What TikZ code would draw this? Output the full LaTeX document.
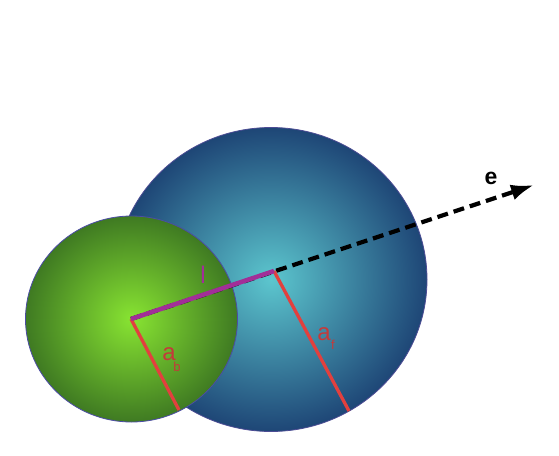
\documentclass[tikz,border=0pt]{standalone}
\usepackage{fontspec}
\setmainfont{Liberation Sans}
\usetikzlibrary{arrows.meta}
\definecolor{bluein}{HTML}{5CC6CE}
\definecolor{blueout}{HTML}{1E4676}
\definecolor{greenin}{HTML}{88E432}
\definecolor{greenout}{HTML}{3F7A22}
\definecolor{redline}{HTML}{E2403E}
\definecolor{redtext}{HTML}{C43A3A}
\definecolor{purpleline}{HTML}{A22E98}
\pgfdeclareradialshading{blueball}{\pgfpoint{0bp}{0bp}}{color(0bp)=(bluein); color(25bp)=(blueout); color(50bp)=(blueout)}
\pgfdeclareradialshading{greenball}{\pgfpoint{0bp}{0bp}}{color(0bp)=(greenin); color(25bp)=(greenout); color(50bp)=(greenout)}
\begin{document}
\begin{tikzpicture}[x=1pt,y=-1pt,
  lbl/.style={inner sep=0pt, font=\fontsize{24}{28}\selectfont},
  sublbl/.style={inner sep=0pt, font=\fontsize{13}{15}\selectfont},
  radline/.style={draw=redline, line width=3.3pt},
  ball/.style={draw=#1, line width=0.8pt}]
\useasboundingbox (0,0) rectangle (559,455);
\coordinate (BC) at (271,279.5);
\coordinate (GC) at (131.5,319);
\coordinate (G) at (131,319);
\coordinate (F) at (274,271);
\coordinate (E) at (534,185);
\coordinate (Rb) at (179,410);
\coordinate (Rf) at (349,411);
\path[shading=blueball, ball=blue!40!black!70] (BC) ellipse [x radius=156pt, y radius=152pt];
\path[shading=greenball, ball=blue!50!black!70] (GC) ellipse [x radius=106pt, y radius=103pt];
\draw[line width=4.2pt, dash pattern=on 11pt off 6pt, -{Latex[length=23pt,width=16pt]}] (G) -- (E);
\draw[radline] (G) -- (Rb);
\draw[radline] (F) -- (Rf);
\draw[draw=purpleline, line width=4.5pt] (G) -- (F);
\node[lbl, text=purpleline] (l) at (203,275) {l};
\node[lbl, text=redtext] (ab) at (169,354) {a};
\node[sublbl, text=redtext] (abs) at (177,367) {b};
\node[lbl, text=redtext] (af) at (324,334) {a};
\node[sublbl, text=redtext] (afs) at (333,345) {f};
\node[lbl, font=\fontsize{23}{28}\selectfont\bfseries] (e) at (491,178) {e};
\end{tikzpicture}
\end{document}
